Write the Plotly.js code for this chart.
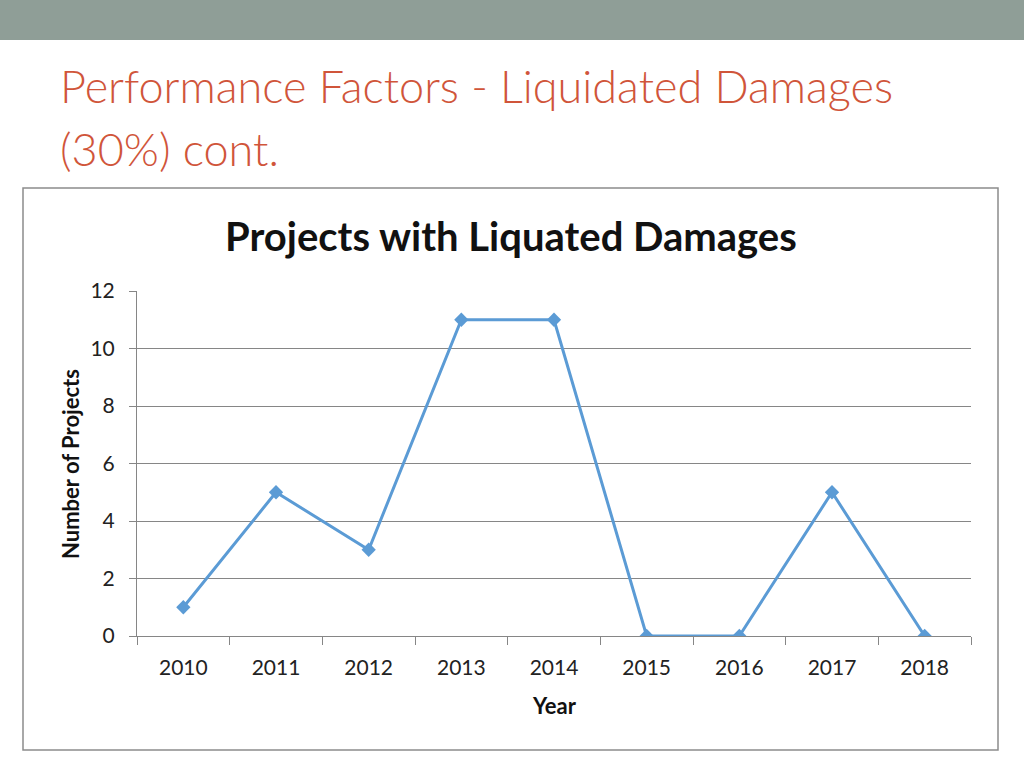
<!DOCTYPE html>
<html><head><meta charset="utf-8">
<script src="https://cdn.plot.ly/plotly-3.0.1.min.js"></script>
<style>html,body{margin:0;padding:0;background:#fff;}#chart{width:1024px;height:768px;}</style>
</head><body><div id="chart"></div>
<script>
const years = ['2010','2011','2012','2013','2014','2015','2016','2017','2018'];
const projects = [1,5,3,11,11,0,0,5,0];
const yTicks = [0,2,4,6,8,10,12];

const L = 137, R = 971, T = 291, B = 636, W = 1024, H = 768;
const px = x => (x - L) / (R - L);
const py = y => (B - y) / (B - T);

const trace = {
  x: years, y: projects, type: 'scatter', mode: 'lines+markers',
  line: {color: '#5B9BD5', width: 3},
  marker: {symbol: 'diamond', size: 11, color: '#5B9BD5'},
  hoverinfo: 'x+y'
};

const layout = {
  width: W, height: H,
  margin: {l: L, r: W - R, t: T, b: H - B, pad: 0},
  paper_bgcolor: '#fff', plot_bgcolor: '#fff',
  showlegend: false,
  font: {family: 'Lato, Carlito, sans-serif', color: '#222'},
  xaxis: {
    type: 'category', range: [-0.5, 8.5], fixedrange: true,
    showgrid: false, zeroline: false,
    showline: true, linecolor: '#868686', linewidth: 1,
    ticks: 'outside', tickson: 'boundaries', ticklen: 8, tickcolor: '#868686',
    tickfont: {size: 21, color: '#222'}, ticklabelstandoff: 13
  },
  yaxis: {
    range: [0, 12], tickvals: yTicks, fixedrange: true,
    showgrid: true, gridcolor: '#868686', gridwidth: 1, zeroline: false,
    showline: true, linecolor: '#868686', linewidth: 1,
    ticks: 'outside', ticklen: 7, tickcolor: '#868686',
    tickfont: {size: 21, color: '#222'}, ticklabelstandoff: 10
  },
  shapes: [
    {type: 'rect', xref: 'paper', yref: 'paper', x0: px(0), x1: px(W), y0: py(0), y1: py(40),
     fillcolor: '#8F9E97', line: {width: 0}, layer: 'below'},
    {type: 'rect', xref: 'paper', yref: 'paper', x0: px(23), x1: px(998), y0: py(750), y1: py(188),
     fillcolor: 'rgba(0,0,0,0)', line: {color: '#8c8c8c', width: 1.5}, layer: 'below'}
  ],
  annotations: [
    {text: 'Performance Factors - Liquidated Damages', xref: 'paper', yref: 'paper',
     x: px(58), y: py(86), xanchor: 'left', yanchor: 'middle', showarrow: false,
     font: {family: 'Lato, Carlito, sans-serif', size: 45, color: '#D0553A', weight: 300}},
    {text: '(30%) cont.', xref: 'paper', yref: 'paper',
     x: px(58), y: py(149), xanchor: 'left', yanchor: 'middle', showarrow: false,
     font: {family: 'Lato, Carlito, sans-serif', size: 45, color: '#D0553A', weight: 300}},
    {text: '<b>Projects with Liquated Damages</b>', xref: 'paper', yref: 'paper',
     x: px(511), y: py(236), xanchor: 'center', yanchor: 'middle', showarrow: false,
     font: {family: 'Lato, Carlito, sans-serif', size: 40, color: '#111'}},
    {text: '<b>Number of Projects</b>', xref: 'paper', yref: 'paper', textangle: -90,
     x: px(70), y: py(464), xanchor: 'center', yanchor: 'middle', showarrow: false,
     font: {family: 'Lato, Carlito, sans-serif', size: 22, color: '#111'}},
    {text: '<b>Year</b>', xref: 'paper', yref: 'paper',
     x: px(554), y: py(705), xanchor: 'center', yanchor: 'middle', showarrow: false,
     font: {family: 'Lato, Carlito, sans-serif', size: 22, color: '#111'}}
  ]
};

Plotly.newPlot('chart', [trace], layout, {displayModeBar: false});
</script></body></html>
